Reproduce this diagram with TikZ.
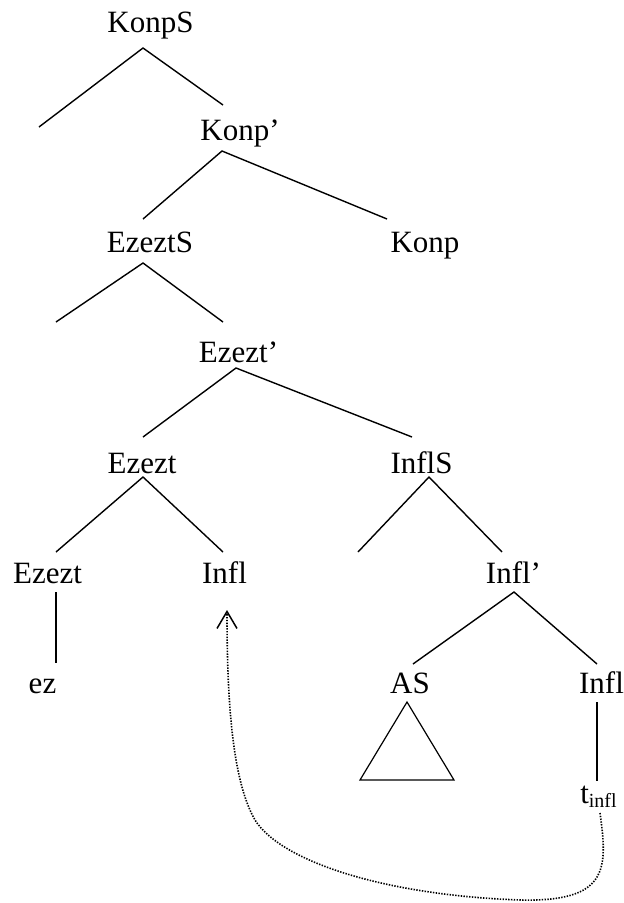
\documentclass[tikz,border=0pt]{standalone}
\usepackage{fontspec}
\setmainfont{Liberation Serif}
\usetikzlibrary{arrows.meta}
\begin{document}
\begin{tikzpicture}[x=1pt,y=-1pt,
  lab/.style={anchor=base,inner sep=0pt,font=\fontsize{31}{37}\selectfont},
  branch/.style={line width=1.4pt},
  tri/.style={line width=1.2pt,line join=miter},
  move/.style={line width=1.6pt,dash pattern=on 1.4pt off 1.4pt,
    -{Straight Barb[length=17pt,width=20pt,line width=1.5pt]}}]
\useasboundingbox (0,0) rectangle (624,903);

% labels
\node[lab] (konpS)  at (150.5,32)  {KonpS};
\node[lab] (konp1)  at (240,140)   {Konp’};
\node[lab] (ezeztS) at (150,252)   {EzeztS};
\node[lab] (konp)   at (425,252)   {Konp};
\node[lab] (ezezt1) at (238.5,362) {Ezezt’};
\node[lab] (ezezt)  at (142,473)   {Ezezt};
\node[lab] (inflS)  at (421.5,473) {InflS};
\node[lab] (ezeztL) at (47.5,583)  {Ezezt};
\node[lab] (infl)   at (224.5,583) {Infl};
\node[lab] (infl1)  at (513.5,583) {Infl’};
\node[lab] (ez)     at (42.5,693)  {ez};
\node[lab] (as)     at (410,693)   {AS};
\node[lab] (inflR)  at (601.5,693) {Infl};
\node[lab] (tinfl)  at (598.5,803) {t\raisebox{-4pt}{\fontsize{20}{24}\selectfont infl}};

% anchor points of branches
\coordinate (konpS-b)  at (143,48);
\coordinate (spec1)    at (39,127);
\coordinate (konp1-t)  at (223,105);
\coordinate (konp1-b)  at (222,151);
\coordinate (ezeztS-t) at (143,219);
\coordinate (konp-t)   at (387,219);
\coordinate (ezeztS-b) at (143,263);
\coordinate (spec2)    at (56,322);
\coordinate (ezezt1-t) at (223,322);
\coordinate (ezezt1-b) at (236,368);
\coordinate (ezezt-t)  at (143,437);
\coordinate (inflS-t)  at (412,437);
\coordinate (ezezt-b)  at (143,477);
\coordinate (ezeztL-t) at (56,552);
\coordinate (infl-t)   at (223,552);
\coordinate (inflS-b)  at (429,477);
\coordinate (spec3)    at (358,552);
\coordinate (infl1-t)  at (502,552);
\coordinate (ezeztL-b) at (56,592);
\coordinate (ez-t)     at (56,663);
\coordinate (infl1-b)  at (514,592);
\coordinate (as-t)     at (413,664);
\coordinate (inflR-t)  at (597,664);
\coordinate (inflR-b)  at (597,702);
\coordinate (tinfl-t)  at (597,781);
\coordinate (as-b)     at (407,702);
\coordinate (as-l)     at (360,780);
\coordinate (as-r)     at (454,780);
\coordinate (tinfl-s)  at (600,813);
\coordinate (infl-s)   at (227,610);

% branches
\draw[branch] (spec1) -- (konpS-b) -- (konp1-t);
\draw[branch] (ezeztS-t) -- (konp1-b) -- (konp-t);
\draw[branch] (spec2) -- (ezeztS-b) -- (ezezt1-t);
\draw[branch] (ezezt-t) -- (ezezt1-b) -- (inflS-t);
\draw[branch] (ezeztL-t) -- (ezezt-b) -- (infl-t);
\draw[branch] (spec3) -- (inflS-b) -- (infl1-t);
\draw[branch] (ezeztL-b) -- (ez-t);
\draw[branch] (as-t) -- (infl1-b) -- (inflR-t);
\draw[branch] (inflR-b) -- (tinfl-t);
\draw[tri] (as-b) -- (as-l) -- (as-r) -- cycle;

% movement arrow
\draw[move] (tinfl-s) .. controls (608,870) and (608,902) .. (520,900)
  .. controls (380,895) and (280,860) .. (255,820)
  .. controls (232,780) and (227,700) .. (infl-s);
\end{tikzpicture}
\end{document}
